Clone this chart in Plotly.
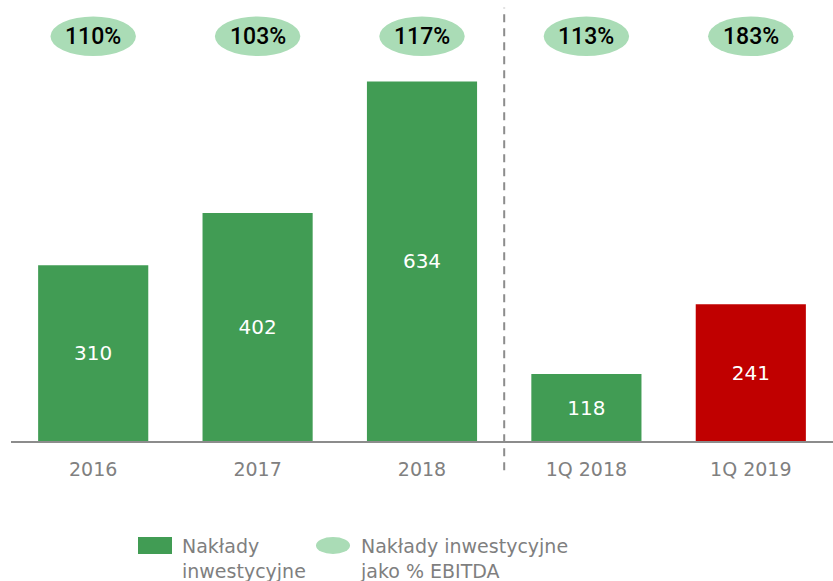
import plotly.graph_objects as go

# chart data
periods = ['2016', '2017', '2018', '1Q 2018', '1Q 2019']
capex = [310, 402, 634, 118, 241]
capex_pct_ebitda = [110, 103, 117, 113, 183]

green = '#419c54'
red = '#c00000'
light_green = '#aadcb6'
grey = '#8c8c8c'
font_family = 'DejaVu Sans'

bar_colors = [green, green, green, green, red]

fig = go.Figure()

fig.add_trace(
    go.Bar(x=periods,
           y=capex,
           marker=dict(color=bar_colors, line_width=0),
           width=0.67,
           text=capex,
           textposition='inside',
           insidetextanchor='middle',
           textangle=0,
           textfont=dict(color='white', size=20, family=font_family),
           showlegend=False,
           hoverinfo='x+y'))

shapes = []
annotations = []

# percent ellipses above each bar
for i, pct in enumerate(capex_pct_ebitda):
  shapes.append(dict(type='circle', xref='x', yref='paper',
                     x0=i - 0.26, x1=i + 0.26, y0=0.893, y1=0.985,
                     fillcolor=light_green, line_width=0, layer='below'))
  annotations.append(dict(x=i, y=0.939, xref='x', yref='paper',
                          xanchor='center', yanchor='middle',
                          text=f'{pct}%', showarrow=False,
                          font=dict(size=23, color='black', family='Roboto', weight=500)))

# dashed separator between years and quarters
shapes.append(dict(type='line', xref='x', yref='paper',
                   x0=2.5, x1=2.5, y0=-0.068, y1=1.005,
                   line=dict(color=grey, width=2, dash='8px,6px')))

# hand made legend
shapes.append(dict(type='rect', xref='paper', yref='paper',
                   x0=(138 - 11) / 822, x1=(172 - 11) / 822,
                   y0=(441 - 554) / 431, y1=(441 - 537) / 431,
                   fillcolor=green, line_width=0))
shapes.append(dict(type='circle', xref='paper', yref='paper',
                   x0=(316 - 11) / 822, x1=(350 - 11) / 822,
                   y0=(441 - 554) / 431, y1=(441 - 537) / 431,
                   fillcolor=light_green, line_width=0))
annotations.append(dict(x=(180 - 11) / 822, y=(441 - 533) / 431, xref='paper', yref='paper',
                        xanchor='left', yanchor='top', align='left', showarrow=False,
                        text='Nakłady<br>inwestycyjne',
                        font=dict(size=19, color='#7f7f7f', family=font_family)))
annotations.append(dict(x=(358 - 11) / 822, y=(441 - 533) / 431, xref='paper', yref='paper',
                        xanchor='left', yanchor='top', align='left', showarrow=False,
                        text='Nakłady inwestycyjne<br>jako % EBITDA',
                        font=dict(size=19, color='#7f7f7f', family=font_family)))

fig.update_layout(
    width=833, height=581,
    margin=dict(l=11, r=0, t=10, b=140),
    plot_bgcolor='white', paper_bgcolor='white',
    bargap=0.33,
    shapes=shapes,
    annotations=annotations,
    xaxis=dict(type='category', range=[-0.5, 4.5],
               showline=True, linecolor=grey, linewidth=2,
               showgrid=False, ticks='', ticklabelstandoff=10,
               tickfont=dict(size=19, color='#808080', family=font_family)),
    yaxis=dict(visible=False, range=[0, 760], showgrid=False, zeroline=False),
)

# drop the default page margin so the figure sits at the window corner
fig.write_html("out.html", config={'displayModeBar': False},
               post_script="document.body.style.margin='0';")
